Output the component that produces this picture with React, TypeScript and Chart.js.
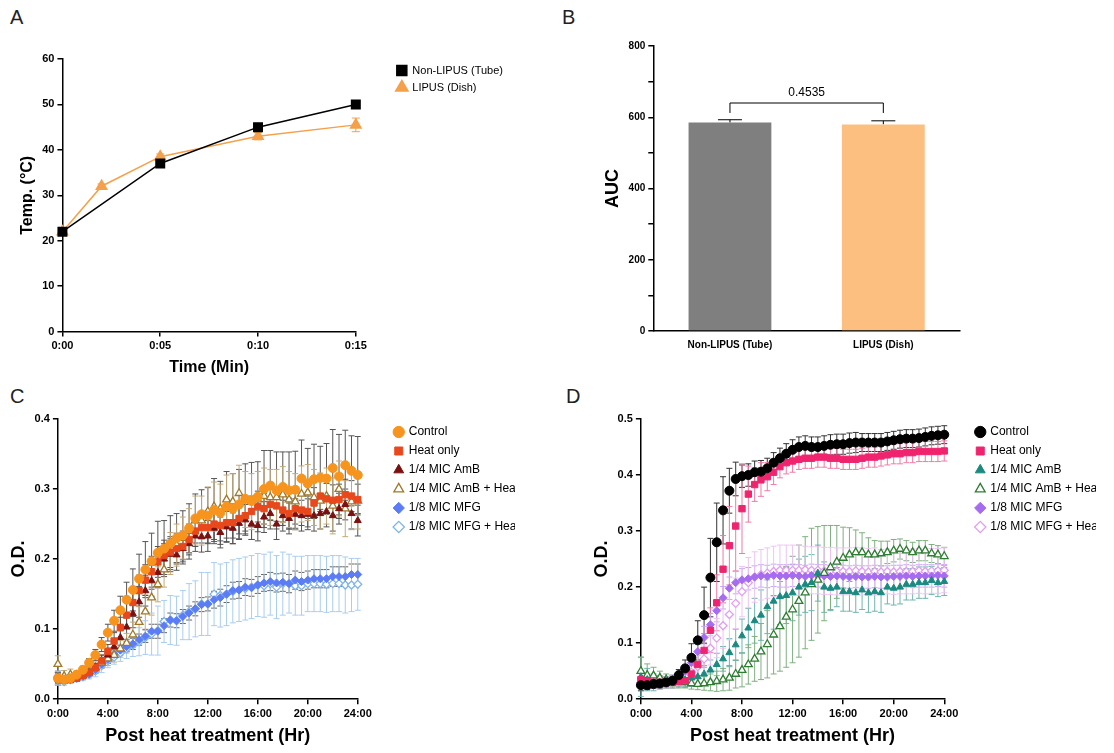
import React, { useEffect, useRef } from "react";
import { Chart, registerables } from "chart.js";
Chart.register(...registerables);

const FONT = "'Liberation Sans', Arial, sans-serif";

// ---------- Panel A ----------
const A_NON_X = [0, 5, 10, 15];
const A_NON_Y = [22, 37, 45, 50];
const A_LIP_X = [0, 2, 5, 10, 15];
const A_LIP_Y = [22, 32, 38.5, 43, 45.5];
const A_LIP_ERR = [0.8, 0.5, 0.6, 0.8, 1.5];

// ---------- Panel B ----------
const B_CATS = ["Non-LIPUS (Tube)", "LIPUS (Dish)"];
const B_VALS = [585, 580];
const B_ERR = [8, 10];
const B_P = "0.4535";

// ---------- Panels C / D ----------
const TIME = [0,0.5,1,1.5,2,2.5,3,3.5,4,4.5,5,5.5,6,6.5,7,7.5,8,8.5,9,9.5,10,10.5,11,11.5,12,12.5,13,13.5,14,14.5,15,15.5,16,16.5,17,17.5,18,18.5,19,19.5,20,20.5,21,21.5,22,22.5,23,23.5,24];
const LABELS = ["Control","Heat only","1/4 MIC AmB","1/4 MIC AmB + Heat","1/8 MIC MFG","1/8 MIC MFG + Heat"];

const C_CTRL = [0.030,0.028,0.030,0.035,0.042,0.052,0.063,0.078,0.095,0.112,0.127,0.142,0.156,0.172,0.185,0.197,0.209,0.215,0.222,0.230,0.234,0.244,0.258,0.264,0.262,0.270,0.266,0.275,0.272,0.278,0.286,0.283,0.289,0.300,0.305,0.298,0.303,0.298,0.299,0.315,0.308,0.314,0.316,0.315,0.330,0.318,0.334,0.326,0.320];
const C_HEAT = [0.030,0.027,0.028,0.030,0.034,0.038,0.045,0.055,0.068,0.083,0.102,0.120,0.138,0.155,0.170,0.182,0.196,0.205,0.210,0.215,0.218,0.228,0.240,0.245,0.245,0.250,0.248,0.252,0.252,0.258,0.262,0.268,0.275,0.272,0.278,0.276,0.270,0.265,0.272,0.270,0.268,0.280,0.290,0.286,0.284,0.285,0.292,0.290,0.285];
const C_AMB = [0.032,0.027,0.028,0.030,0.033,0.038,0.045,0.055,0.063,0.075,0.088,0.103,0.122,0.139,0.155,0.169,0.181,0.200,0.207,0.206,0.215,0.222,0.233,0.232,0.233,0.244,0.238,0.246,0.244,0.251,0.256,0.250,0.248,0.260,0.265,0.250,0.262,0.258,0.264,0.262,0.264,0.262,0.265,0.268,0.262,0.272,0.278,0.265,0.255];
const C_AMBH = [0.050,0.033,0.035,0.034,0.036,0.040,0.045,0.052,0.058,0.063,0.072,0.080,0.092,0.110,0.125,0.145,0.164,0.185,0.208,0.220,0.230,0.240,0.255,0.255,0.268,0.275,0.272,0.285,0.282,0.294,0.285,0.282,0.285,0.290,0.288,0.288,0.292,0.285,0.282,0.293,0.295,0.288,0.283,0.290,0.276,0.300,0.272,0.282,0.283];
const C_MFG = [0.030,0.028,0.028,0.030,0.033,0.036,0.042,0.050,0.057,0.064,0.070,0.075,0.079,0.085,0.090,0.097,0.097,0.105,0.113,0.112,0.118,0.123,0.129,0.135,0.136,0.142,0.145,0.150,0.155,0.156,0.160,0.159,0.163,0.166,0.168,0.166,0.167,0.165,0.170,0.168,0.170,0.172,0.172,0.172,0.175,0.175,0.175,0.178,0.178];
const C_MFGH = [0.030,0.025,0.028,0.030,0.032,0.035,0.040,0.048,0.055,0.060,0.066,0.072,0.077,0.082,0.088,0.093,0.098,0.111,0.113,0.112,0.120,0.125,0.129,0.136,0.136,0.150,0.148,0.150,0.154,0.156,0.158,0.160,0.163,0.162,0.165,0.160,0.165,0.165,0.162,0.162,0.165,0.165,0.165,0.164,0.165,0.165,0.163,0.163,0.164];

const C_ERR_CTRL = [0.010,0.005,0.005,0.005,0.005,0.006,0.008,0.010,0.012,0.015,0.020,0.025,0.030,0.035,0.040,0.040,0.045,0.040,0.040,0.035,0.035,0.035,0.035,0.035,0.040,0.045,0.045,0.050,0.050,0.050,0.050,0.055,0.050,0.055,0.050,0.055,0.050,0.055,0.055,0.055,0.050,0.050,0.045,0.050,0.055,0.060,0.050,0.050,0.055];
const C_ERR_SMALL = [0.006,0.004,0.004,0.004,0.004,0.005,0.006,0.008,0.010,0.012,0.015,0.018,0.020,0.022,0.022,0.022,0.022,0.022,0.022,0.022,0.022,0.022,0.022,0.022,0.022,0.022,0.022,0.022,0.022,0.022,0.022,0.022,0.022,0.022,0.022,0.022,0.022,0.022,0.022,0.022,0.022,0.022,0.022,0.022,0.022,0.022,0.022,0.022,0.022];
const C_ERR_AMBH = [0.012,0.008,0.008,0.006,0.006,0.006,0.008,0.008,0.010,0.010,0.012,0.014,0.018,0.022,0.025,0.025,0.025,0.025,0.030,0.030,0.030,0.032,0.035,0.035,0.035,0.035,0.035,0.035,0.040,0.040,0.040,0.040,0.040,0.040,0.040,0.040,0.040,0.040,0.040,0.040,0.040,0.040,0.040,0.040,0.040,0.040,0.040,0.040,0.040];
const C_ERR_MFG = [0.008,0.004,0.004,0.004,0.004,0.004,0.005,0.005,0.006,0.006,0.007,0.007,0.008,0.008,0.009,0.010,0.010,0.010,0.010,0.010,0.010,0.010,0.010,0.010,0.010,0.012,0.012,0.012,0.012,0.012,0.012,0.012,0.012,0.012,0.013,0.013,0.013,0.013,0.013,0.013,0.013,0.013,0.013,0.013,0.014,0.014,0.014,0.015,0.015];
const C_ERR_MFGH = [0.010,0.005,0.005,0.005,0.005,0.006,0.008,0.010,0.010,0.010,0.012,0.014,0.016,0.020,0.024,0.030,0.035,0.030,0.035,0.035,0.035,0.040,0.040,0.045,0.045,0.045,0.045,0.045,0.045,0.045,0.045,0.045,0.045,0.045,0.045,0.045,0.045,0.042,0.042,0.042,0.040,0.040,0.040,0.040,0.040,0.040,0.040,0.038,0.037];

const D_CTRL = [0.025,0.025,0.027,0.028,0.030,0.033,0.043,0.055,0.074,0.105,0.150,0.217,0.280,0.337,0.372,0.393,0.398,0.400,0.405,0.406,0.412,0.422,0.430,0.438,0.445,0.450,0.452,0.450,0.450,0.452,0.454,0.455,0.455,0.457,0.458,0.458,0.458,0.458,0.458,0.460,0.462,0.464,0.465,0.465,0.466,0.468,0.470,0.471,0.472];
const D_HEAT = [0.035,0.032,0.030,0.030,0.030,0.030,0.032,0.033,0.045,0.062,0.087,0.123,0.172,0.232,0.274,0.309,0.340,0.366,0.383,0.392,0.397,0.405,0.415,0.422,0.425,0.428,0.430,0.430,0.432,0.432,0.430,0.430,0.428,0.428,0.428,0.430,0.432,0.432,0.434,0.436,0.438,0.438,0.440,0.440,0.442,0.442,0.442,0.442,0.443];
const D_AMB = [0.040,0.035,0.030,0.030,0.030,0.030,0.032,0.035,0.038,0.040,0.045,0.052,0.062,0.072,0.083,0.097,0.113,0.127,0.140,0.150,0.165,0.175,0.183,0.185,0.190,0.200,0.205,0.208,0.225,0.200,0.198,0.200,0.192,0.192,0.190,0.195,0.190,0.192,0.190,0.200,0.198,0.200,0.205,0.205,0.208,0.208,0.212,0.208,0.210];
const D_AMBH = [0.050,0.043,0.042,0.038,0.035,0.033,0.030,0.030,0.028,0.027,0.028,0.030,0.032,0.035,0.038,0.045,0.052,0.062,0.072,0.085,0.098,0.115,0.130,0.147,0.160,0.175,0.190,0.205,0.213,0.225,0.235,0.245,0.252,0.258,0.262,0.262,0.258,0.258,0.260,0.262,0.265,0.268,0.265,0.262,0.265,0.265,0.260,0.258,0.255];
const D_MFG = [0.030,0.028,0.028,0.030,0.032,0.035,0.040,0.050,0.065,0.085,0.110,0.133,0.158,0.181,0.198,0.208,0.213,0.215,0.218,0.220,0.219,0.221,0.220,0.220,0.221,0.220,0.219,0.221,0.220,0.220,0.219,0.220,0.219,0.218,0.219,0.218,0.218,0.219,0.218,0.218,0.219,0.219,0.220,0.219,0.220,0.220,0.220,0.221,0.220];
const D_MFGH = [0.030,0.028,0.028,0.030,0.030,0.032,0.035,0.040,0.048,0.058,0.072,0.091,0.109,0.131,0.151,0.171,0.192,0.208,0.218,0.222,0.225,0.228,0.230,0.230,0.230,0.230,0.231,0.230,0.230,0.229,0.229,0.228,0.228,0.228,0.229,0.228,0.227,0.228,0.227,0.228,0.227,0.228,0.228,0.228,0.229,0.228,0.229,0.229,0.230];

const D_ERR_CTRL = [0.010,0.008,0.008,0.008,0.008,0.008,0.010,0.015,0.025,0.035,0.050,0.070,0.070,0.060,0.040,0.030,0.020,0.020,0.020,0.020,0.018,0.018,0.018,0.018,0.018,0.018,0.018,0.018,0.018,0.018,0.018,0.018,0.018,0.018,0.018,0.016,0.016,0.016,0.016,0.016,0.016,0.016,0.016,0.016,0.016,0.016,0.016,0.016,0.016];
const D_ERR_HEAT = [0.015,0.010,0.010,0.010,0.010,0.010,0.010,0.012,0.015,0.020,0.030,0.040,0.050,0.060,0.070,0.080,0.080,0.050,0.030,0.030,0.025,0.022,0.020,0.020,0.020,0.018,0.018,0.018,0.018,0.018,0.018,0.018,0.018,0.018,0.018,0.018,0.018,0.018,0.018,0.018,0.018,0.018,0.018,0.018,0.018,0.018,0.018,0.018,0.018];
const D_ERR_AMB = [0.035,0.020,0.015,0.012,0.010,0.010,0.010,0.012,0.015,0.015,0.015,0.018,0.020,0.022,0.025,0.028,0.030,0.035,0.040,0.045,0.048,0.050,0.050,0.050,0.050,0.050,0.050,0.050,0.050,0.045,0.040,0.035,0.035,0.035,0.035,0.035,0.035,0.035,0.035,0.030,0.030,0.030,0.028,0.028,0.028,0.028,0.025,0.025,0.025];
const D_ERR_AMBH = [0.025,0.020,0.015,0.012,0.010,0.010,0.010,0.010,0.010,0.010,0.012,0.015,0.018,0.020,0.022,0.025,0.030,0.035,0.040,0.050,0.060,0.070,0.080,0.090,0.095,0.100,0.100,0.100,0.095,0.085,0.075,0.065,0.055,0.048,0.040,0.035,0.030,0.025,0.022,0.020,0.020,0.018,0.018,0.018,0.018,0.018,0.016,0.016,0.016];
const D_ERR_MFG = [0.010,0.008,0.008,0.008,0.008,0.008,0.010,0.012,0.015,0.018,0.020,0.020,0.020,0.020,0.020,0.020,0.020,0.020,0.020,0.020,0.020,0.020,0.020,0.020,0.020,0.020,0.020,0.020,0.020,0.020,0.020,0.020,0.020,0.020,0.020,0.020,0.020,0.020,0.020,0.020,0.020,0.020,0.020,0.020,0.020,0.020,0.020,0.020,0.020];
const D_ERR_MFGH = [0.010,0.008,0.008,0.008,0.008,0.008,0.010,0.012,0.015,0.020,0.025,0.030,0.035,0.040,0.045,0.045,0.045,0.045,0.045,0.045,0.045,0.045,0.045,0.045,0.045,0.045,0.042,0.042,0.042,0.042,0.042,0.042,0.042,0.042,0.042,0.042,0.042,0.042,0.040,0.040,0.040,0.040,0.040,0.040,0.040,0.040,0.040,0.040,0.040];

const errorBars = {
  id: "errorBars",
  beforeDatasetsDraw(chart: any) {
    const ctx = chart.ctx;
    chart.data.datasets.forEach((ds: any, i: number) => {
      if (!ds.err) return;
      const meta = chart.getDatasetMeta(i);
      const ys = chart.scales[meta.yAxisID];
      ctx.save();
      ctx.strokeStyle = ds.errColor || "#333";
      ctx.lineWidth = 1;
      meta.data.forEach((el: any, j: number) => {
        const e = ds.err[j];
        if (!e) return;
        const raw = ds.data[j];
        const v = typeof raw === "number" ? raw : raw.y;
        const x = el.x;
        const yt = ys.getPixelForValue(v + e);
        const yb = ds.upOnly ? ys.getPixelForValue(v) : ys.getPixelForValue(v - e);
        const cw = ds.capW || 3;
        ctx.beginPath();
        ctx.moveTo(x, yt); ctx.lineTo(x, yb);
        ctx.moveTo(x - cw, yt); ctx.lineTo(x + cw, yt);
        if (!ds.upOnly) { ctx.moveTo(x - cw, yb); ctx.lineTo(x + cw, yb); }
        ctx.stroke();
      });
      ctx.restore();
    });
  },
};

// Adds a horizontal gap between plot area and a right-side legend.
const legendGap = (gap: number) => ({
  id: "legendGap",
  beforeInit(chart: any) {
    const lg = chart.legend;
    if (!lg) return;
    const orig = lg.fit;
    lg.fit = function () { orig.call(this); this.width += gap; };
  },
  afterLayout(chart: any) {
    if (chart.legend) chart.legend.left += gap;
  },
});

const bracket = {
  id: "bracket",
  afterDatasetsDraw(chart: any) {
    const m = chart.getDatasetMeta(0);
    if (!m.data[1]) return;
    const ys = chart.scales.y;
    const x1 = m.data[0].x, x2 = m.data[1].x;
    const yTop = ys.getPixelForValue(640), yBot = ys.getPixelForValue(612);
    const ctx = chart.ctx;
    ctx.save();
    ctx.strokeStyle = "#000"; ctx.lineWidth = 1;
    ctx.beginPath();
    ctx.moveTo(x1, yBot); ctx.lineTo(x1, yTop); ctx.lineTo(x2, yTop); ctx.lineTo(x2, yBot);
    ctx.stroke();
    ctx.fillStyle = "#000"; ctx.font = `12px ${FONT}`; ctx.textAlign = "center"; ctx.textBaseline = "bottom";
    ctx.fillText(B_P, (x1 + x2) / 2, yTop - 4);
    ctx.restore();
  },
};

const axisBase = (title: string, titleSize: number, tickSize: number) => ({
  grid: { display: true, drawOnChartArea: false, drawTicks: true, tickLength: 5, color: "#000", lineWidth: 1.5 },
  border: { color: "#000", width: 1.5 },
  ticks: { color: "#000", font: { family: FONT, size: tickSize, weight: "bold" as const } },
  title: { display: !!title, text: title, color: "#000", font: { family: FONT, size: titleSize, weight: "bold" as const }, padding: 2 },
});

const pad2 = (v: number) => (v < 10 ? "0" + v : "" + v);

function useChart(ref: any, cfg: () => any) {
  useEffect(() => {
    const c = new Chart(ref.current, cfg());
    return () => c.destroy();
  }, []);
}

function scatterDs(label: string, ys: number[], err: number[], color: string, style: string, open: boolean, errColor: string, r: number) {
  return {
    label,
    data: TIME.map((t, i) => ({ x: t, y: ys[i] })),
    err,
    errColor,
    showLine: false,
    clip: false,
    pointStyle: style,
    pointRadius: r,
    pointBorderWidth: open ? 1.3 : 1,
    backgroundColor: open ? "#fff" : color,
    borderColor: color,
  };
}

function growthOptions(ymax: number, layoutPad: any) {
  const x = axisBase("Post heat treatment (Hr)", 18, 11);
  const y = axisBase("O.D.", 18, 11);
  return {
    responsive: false,
    animation: false,
    layout: { padding: layoutPad },
    plugins: {
      legend: {
        position: "right", align: "start",
        labels: { usePointStyle: true, boxWidth: 8, boxHeight: 8, padding: 7, color: "#000", font: { family: FONT, size: 12 } },
      },
      tooltip: { enabled: false },
    },
    scales: {
      x: { ...x, type: "linear", min: 0, max: 24, ticks: { ...x.ticks, stepSize: 4, callback: (v: number) => `${v}:00` } },
      y: { ...y, min: 0, max: ymax, ticks: { ...y.ticks, stepSize: 0.1, callback: (v: number) => v.toFixed(1) } },
    },
  };
}

function PanelA() {
  const ref = useRef<HTMLCanvasElement>(null);
  useChart(ref, () => {
    const x = axisBase("Time (Min)", 16, 11);
    const y = axisBase("Temp. (°C)", 16, 11);
    return {
      type: "line",
      data: {
        datasets: [
          { label: "Non-LIPUS (Tube)", data: A_NON_X.map((t, i) => ({ x: t, y: A_NON_Y[i] })), clip: false, borderColor: "#000", backgroundColor: "#000", pointStyle: "rect", pointRadius: 6, borderWidth: 1.5 },
          { label: "LIPUS (Dish)", data: A_LIP_X.map((t, i) => ({ x: t, y: A_LIP_Y[i] })), clip: false, err: A_LIP_ERR, errColor: "#f5a04a", capW: 4, borderColor: "#f5a04a", backgroundColor: "#f5a04a", pointStyle: "triangle", pointRadius: 6, borderWidth: 1.5 },
        ],
      },
      options: {
        responsive: false, animation: false,
        layout: { padding: { top: 23, right: 47, bottom: 12, left: 16 } },
        plugins: {
          legend: { position: "right", align: "start", labels: { usePointStyle: true, boxWidth: 10, boxHeight: 10, padding: 6, color: "#000", font: { family: FONT, size: 11 } } },
          tooltip: { enabled: false },
        },
        scales: {
          x: { ...x, type: "linear", min: 0, max: 15, ticks: { ...x.ticks, stepSize: 5, callback: (v: number) => `0:${pad2(v)}` } },
          y: { ...y, min: 0, max: 60, ticks: { ...y.ticks, stepSize: 10 } },
        },
      },
      plugins: [errorBars, legendGap(35)],
    };
  });
  return <canvas ref={ref} width={560} height={355} />;
}

function PanelB() {
  const ref = useRef<HTMLCanvasElement>(null);
  useChart(ref, () => {
    const x = axisBase("", 16, 10);
    const y = axisBase("AUC", 18, 10);
    return {
      type: "bar",
      data: {
        labels: B_CATS,
        datasets: [{ data: B_VALS, err: B_ERR, upOnly: true, capW: 12, errColor: "#000", backgroundColor: ["#7f7f7f", "#fdbf80"], barPercentage: 0.54, categoryPercentage: 1 }],
      },
      options: {
        responsive: false, animation: false,
        layout: { padding: { top: 20, right: 100, bottom: 27, left: 20 } },
        plugins: { legend: { display: false }, tooltip: { enabled: false } },
        scales: {
          x: { ...x, grid: { ...x.grid, display: false } },
          y: { ...y, min: 0, max: 800, ticks: { ...y.ticks, stepSize: 100, callback: (v: number) => (v % 200 === 0 ? v : "") } },
        },
      },
      plugins: [errorBars, bracket],
    };
  });
  return <canvas ref={ref} width={480} height={355} />;
}

function PanelC() {
  const ref = useRef<HTMLCanvasElement>(null);
  useChart(ref, () => ({
    type: "scatter",
    data: {
      datasets: [
        scatterDs(LABELS[0], C_CTRL, C_ERR_CTRL, "#f7941d", "circle", false, "#555", 4.5),
        scatterDs(LABELS[1], C_HEAT, C_ERR_SMALL, "#e8481c", "rect", false, "#555", 4.5),
        scatterDs(LABELS[2], C_AMB, C_ERR_SMALL, "#7b1010", "triangle", false, "#555", 4),
        scatterDs(LABELS[3], C_AMBH, C_ERR_AMBH, "#a0782a", "triangle", true, "#c4a97a", 4.5),
        scatterDs(LABELS[4], C_MFG, C_ERR_MFG, "#5b7cf5", "rectRot", false, "#666", 4),
        scatterDs(LABELS[5], C_MFGH, C_ERR_MFGH, "#7fb4ea", "rectRot", true, "#a9cdf0", 4),
      ],
    },
    options: growthOptions(0.4, { top: 21, right: 45, bottom: 4, left: 6 }),
    plugins: [errorBars, legendGap(30)],
  }));
  return <canvas ref={ref} width={560} height={355} />;
}

function PanelD() {
  const ref = useRef<HTMLCanvasElement>(null);
  useChart(ref, () => ({
    type: "scatter",
    data: {
      datasets: [
        scatterDs(LABELS[0], D_CTRL, D_ERR_CTRL, "#000", "circle", false, "#333", 4.5),
        scatterDs(LABELS[1], D_HEAT, D_ERR_HEAT, "#f0246e", "rect", false, "#f27aa6", 4.5),
        scatterDs(LABELS[2], D_AMB, D_ERR_AMB, "#1a8a80", "triangle", false, "#6fb5ae", 4),
        scatterDs(LABELS[3], D_AMBH, D_ERR_AMBH, "#2e7d32", "triangle", true, "#7fb07f", 4.5),
        scatterDs(LABELS[4], D_MFG, D_ERR_MFG, "#a66cf0", "rectRot", false, "#c9a6f5", 4),
        scatterDs(LABELS[5], D_MFGH, D_ERR_MFGH, "#e29ef0", "rectRot", true, "#ecc4f5", 4),
      ],
    },
    options: growthOptions(0.5, { top: 21, right: 18, bottom: 4, left: 29 }),
    plugins: [errorBars, legendGap(25)],
  }));
  return <canvas ref={ref} width={554} height={355} />;
}

const letter: React.CSSProperties = { position: "absolute", fontFamily: FONT, fontSize: 20, color: "#222" };

export default function App() {
  return (
    <div style={{ position: "relative", width: 1114, height: 753, background: "#fff", margin: -8 }}>
      <div style={{ ...letter, left: 10, top: 6 }}>A</div>
      <div style={{ ...letter, left: 562, top: 6 }}>B</div>
      <div style={{ ...letter, left: 10, top: 385 }}>C</div>
      <div style={{ ...letter, left: 566, top: 385 }}>D</div>
      <div style={{ position: "absolute", left: 0, top: 36 }}><PanelA /></div>
      <div style={{ position: "absolute", left: 580, top: 26 }}><PanelB /></div>
      <div style={{ position: "absolute", left: 0, top: 398 }}><PanelC /></div>
      <div style={{ position: "absolute", left: 560, top: 398 }}><PanelD /></div>
    </div>
  );
}
